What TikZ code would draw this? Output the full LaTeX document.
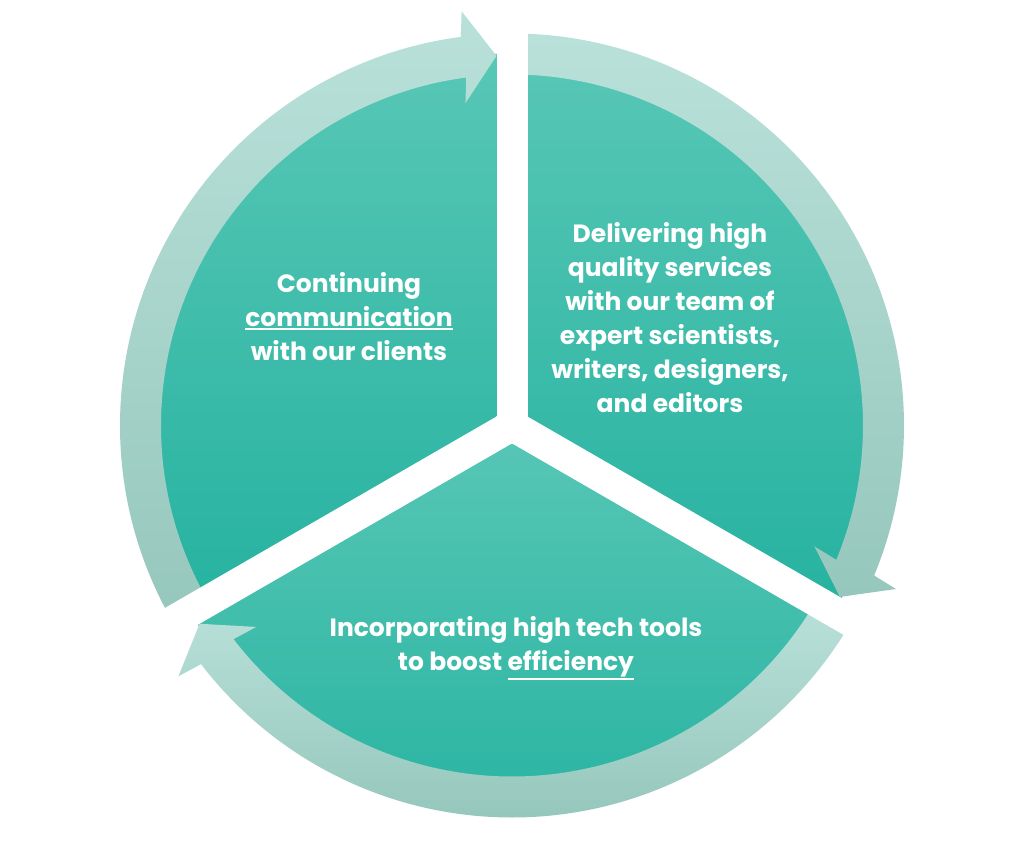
\documentclass[tikz,border=0pt]{standalone}
\usepackage{fontspec}
\setmainfont{Poppins}
\usetikzlibrary{calc}
\definecolor{arrowtop}{HTML}{B9E1DA}
\definecolor{arrowbot}{HTML}{96C7BC}
\definecolor{sectop}{HTML}{58C7B6}
\definecolor{secbot}{HTML}{26B2A0}
\newcommand\ringarrow[2]{%
  \pgfmathsetmacro\tb{#2+5.1}%
  \pgfmathsetmacro\tn{#2+90}%
  \pgfmathsetmacro\tr{#2+180}%
  \shade[arrowshade] (#1:392pt) arc[start angle=#1, end angle=\tb, radius=392pt]
    -- ($(#2:370pt)+(\tn:33pt)+(#2:46pt)$)
    -- (#2:370pt)
    -- ($(#2:370pt)+(\tn:33pt)+(\tr:46pt)$)
    -- (\tb:351pt) arc[start angle=\tb, end angle=#1, radius=351pt] -- cycle;
}
\newcommand\myul[1]{\leavevmode\setbox0\hbox{#1}\rlap{\copy0}\rule[\dimexpr-\dp0-3pt\relax]{\wd0}{1.8pt}}
\begin{document}
\begin{tikzpicture}[x=1pt,y=1pt,
  arrowshade/.style={top color=arrowtop, bottom color=arrowbot},
  sector/.style={top color=sectop, bottom color=secbot},
  gapline/.style={draw=white, line width=31pt},
  label/.style={text=white, align=center, font=\fontsize{25}{34}\selectfont\bfseries, inner sep=0pt}]
\useasboundingbox[fill=white] (-512,-435.5) rectangle (512,425.5);
% sectors
\shade[sector] (0,0) -- (90:372pt) arc[start angle=90, end angle=210, radius=372pt] -- cycle;
\shade[sector] (0,0) -- (-30:372pt) arc[start angle=-30, end angle=90, radius=372pt] -- cycle;
\shade[sector] (0,0) -- (-150:372pt) arc[start angle=-150, end angle=-30, radius=372pt] -- cycle;
% arrows
\ringarrow{210}{92.4}
\ringarrow{90}{-27.6}
\ringarrow{-30}{-147.6}
% gaps
\coordinate (c) at (0,0);
\coordinate (g1) at (90:420pt);
\coordinate (g2) at (-30:420pt);
\coordinate (g3) at (-150:420pt);
\draw[gapline] (c) -- (g1);
\draw[gapline] (c) -- (g2);
\draw[gapline] (c) -- (g3);
\fill[white] (c) circle[radius=18pt];
% labels
\node[label] (lt) at (-163,108.5) {Continuing\\\myul{communication}\\with our clients};
\node[label] (rt) at (158,107.5) {Delivering high\\quality services\\with our team of\\expert scientists,\\writers, designers,\\and editors};
\node[label] (bt) at (4,-222.5) {Incorporating high tech tools\\to boost \myul{efficiency}};
\end{tikzpicture}
\end{document}
